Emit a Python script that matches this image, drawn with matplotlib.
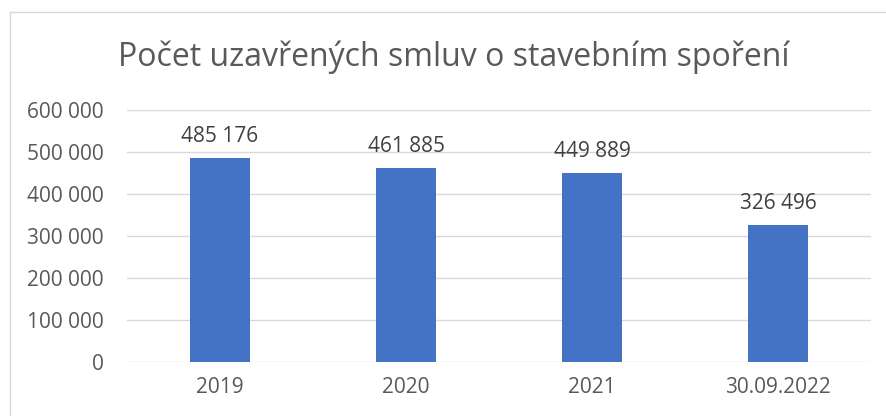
import matplotlib
matplotlib.use("Agg")
import matplotlib.pyplot as plt
from matplotlib.lines import Line2D
from matplotlib.ticker import FuncFormatter

categories = ["2019", "2020", "2021", "30.09.2022"]
values = [485176, 461885, 449889, 326496]
yticks = [0, 100000, 200000, 300000, 400000, 500000, 600000]

W, H = 887, 416
plt.rcParams['font.family'] = ['Open Sans', 'DejaVu Sans']
fig = plt.figure(figsize=(W/100, H/100), dpi=100)
fig.patch.set_facecolor('white')

# outer frame (top and left visible)
fig.add_artist(Line2D([10/W, 10/W], [0, 1 - 12/H], color='#D9D9D9', lw=1, transform=fig.transFigure))
fig.add_artist(Line2D([10/W, 1], [1 - 12/H, 1 - 12/H], color='#D9D9D9', lw=1, transform=fig.transFigure))

left, right = 127/W, 871/W
bottom, top = 1 - 362/H, 1 - 110/H
ax = fig.add_axes([left, bottom, right - left, top - bottom])

x = list(range(len(categories)))
bars = ax.bar(x, values, width=0.32, color='#4472C4', zorder=3)
ax.set_xlim(-0.5, len(categories) - 0.5)
ax.set_ylim(0, 600000)
ax.set_yticks(yticks)
ax.yaxis.set_major_formatter(FuncFormatter(lambda v, p: f"{int(v):,}".replace(",", " ")))
ax.set_xticks(x)
ax.set_xticklabels(categories)
ax.grid(axis='y', color='#D9D9D9', lw=1, zorder=0)
for s in ax.spines.values():
    s.set_visible(False)
ax.tick_params(axis='both', length=0, colors='#595959', labelsize=15)
ax.tick_params(axis='y', pad=17)
ax.tick_params(axis='x', pad=11)

for xi, v in zip(x, values):
    ax.annotate(f"{v:,}".replace(",", " "), (xi, v), xytext=(0, 8), textcoords='offset points',
                ha='center', va='bottom', fontsize=15, color='#404040')

fig.text(454/W, 1 - 57/H, "Počet uzavřených smluv o stavebním spoření", ha='center', va='center',
         fontsize=23, color='#595959')

fig.savefig("out.png", dpi=100, facecolor='white')
